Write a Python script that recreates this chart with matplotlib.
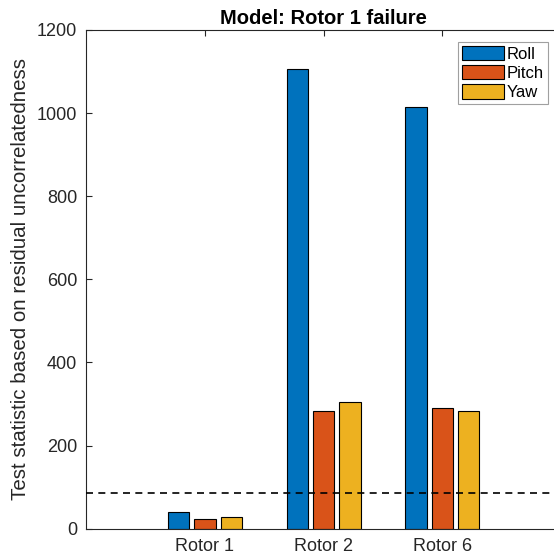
import numpy as np
import matplotlib
matplotlib.use("Agg")
from matplotlib import pyplot as plt

# test statistics per rotor and axis
rotors = ['Rotor 1', 'Rotor 2', 'Rotor 6']
roll = [39, 1105, 1014]
pitch = [23, 284, 290]
yaw = [29, 304, 283]
threshold = 85

series_names = ['Roll', 'Pitch', 'Yaw']
colors = ['#0072BD', '#D95319', '#EDB120']
axcol = '#262626'

plt.rcParams['font.family'] = ['Liberation Sans', 'DejaVu Sans']

fig = plt.figure(figsize=(5.54, 5.60), dpi=100)
# axes runs slightly past the right edge of the figure
ax = fig.add_axes([86.3/554, 31.3/560, 474.7/554, 498.7/560])

x = np.arange(1, len(rotors) + 1)
width = 0.18
step = 0.222
for i, (vals, name, c) in enumerate(zip([roll, pitch, yaw], series_names, colors)):
    ax.bar(x + (i - 1)*step, vals, width, color=c, edgecolor='black',
           linewidth=0.8, label=name, zorder=2)

ax.axhline(threshold, color='black', lw=1.2, ls=(0, (4.2, 3.2)), zorder=3)

ax.set_xlim(0, 4)
ax.set_ylim(0, 1200)
ax.set_xticks(x)
ax.set_xticklabels(rotors)
ax.set_yticks(np.arange(0, 1201, 200))

for s in ax.spines.values():
    s.set_color(axcol)
    s.set_linewidth(0.8)
ax.tick_params(direction='in', top=True, right=True, colors=axcol,
               labelsize=13, length=4, width=0.8)
ax.tick_params(axis='y', pad=6.5)
ax.tick_params(axis='x', pad=7)

ax.set_ylabel('Test statistic based on residual uncorrelatedness',
              fontsize=14.8, color=axcol, labelpad=5)
ax.set_title('Model: Rotor 1 failure', fontsize=14.5, fontweight='bold',
             pad=4)

leg = ax.legend(loc='upper left', fontsize=12, fancybox=False,
                edgecolor='#888888', handlelength=2.5, handleheight=0.95,
                handletextpad=0.15, labelspacing=0.2, borderpad=0.25,
                borderaxespad=0)
leg.set_bbox_to_anchor((458/554, 1 - 41.7/560), transform=fig.transFigure)
leg.get_frame().set_linewidth(0.8)

fig.savefig('out.png', dpi=100)
